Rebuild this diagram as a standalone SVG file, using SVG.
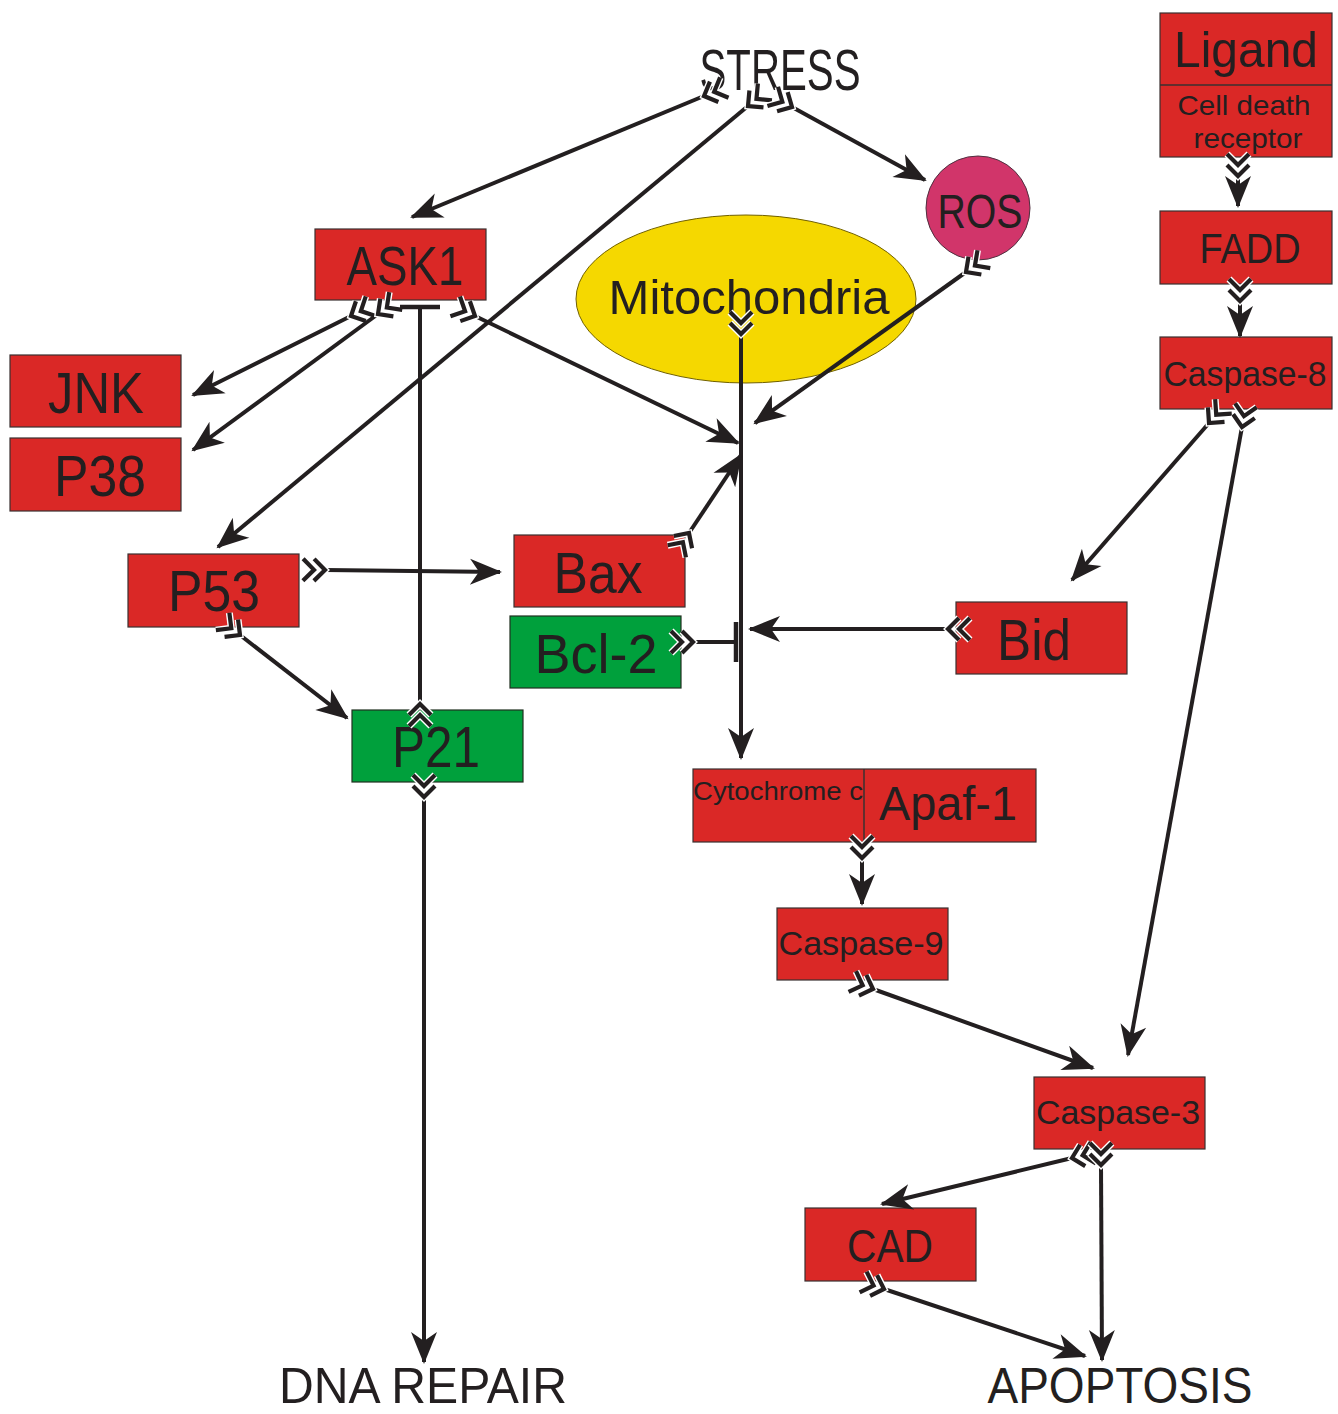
<svg xmlns="http://www.w3.org/2000/svg" width="1338" height="1414" viewBox="0 0 1338 1414">
<style>
.box{fill:#da2826;stroke:#3a3030;stroke-width:1.2}
.green{fill:#00a03c;stroke:#203020;stroke-width:1.2}
text{font-family:"Liberation Sans",Arial,sans-serif;fill:#231f20;text-anchor:middle}
.c{stroke:#231f20;stroke-width:4;fill:none}
.a{marker-end:url(#ah);marker-start:url(#ch)}
</style>
<defs>
<marker id="ah" markerUnits="userSpaceOnUse" markerWidth="40" markerHeight="40" refX="0" refY="0" orient="auto" overflow="visible">
<path d="M2,0 L-30,-13 L-21,0 L-30,13 Z" fill="#231f20"/>
</marker>
<marker id="ch" markerUnits="userSpaceOnUse" markerWidth="40" markerHeight="40" refX="0" refY="0" orient="auto" overflow="visible">
<path d="M-22,-11 L-11,0 L-22,11 M-11,-11 L0,0 L-11,11" fill="none" stroke="#fff" stroke-width="7"/>
<path d="M-22,-11 L-11,0 L-22,11 M-11,-11 L0,0 L-11,11" fill="none" stroke="#231f20" stroke-width="4.2"/>
</marker>
<marker id="tb" markerUnits="userSpaceOnUse" markerWidth="40" markerHeight="40" refX="0" refY="0" orient="auto" overflow="visible">
<path d="M0,-20 L0,20" stroke="#231f20" stroke-width="4.5"/>
</marker>
</defs>

<g id="nodes">
<g id="stress"><text x="780" y="90" font-size="58" textLength="161" lengthAdjust="spacingAndGlyphs">STRESS</text></g>
<g id="ligand"><rect class="box" x="1160" y="13" width="172" height="144"/><line x1="1160" y1="85" x2="1332" y2="85" stroke="#3a3030" stroke-width="1.5"/>
<text x="1246" y="67" font-size="50" textLength="144" lengthAdjust="spacingAndGlyphs">Ligand</text>
<text x="1244" y="115" font-size="28" textLength="133" lengthAdjust="spacingAndGlyphs">Cell death</text>
<text x="1248" y="148" font-size="28" textLength="109" lengthAdjust="spacingAndGlyphs">receptor</text></g>
<g id="fadd"><rect class="box" x="1160" y="211" width="172" height="73"/><text x="1250" y="263" font-size="43" textLength="101" lengthAdjust="spacingAndGlyphs">FADD</text></g>
<g id="casp8"><rect class="box" x="1160" y="337" width="172" height="72"/><text x="1245" y="386" font-size="35" textLength="163" lengthAdjust="spacingAndGlyphs">Caspase-8</text></g>
<g id="ros"><circle cx="978" cy="208" r="52" fill="#d1356a" stroke="#503040" stroke-width="1"/><text x="980" y="228" font-size="49" textLength="85" lengthAdjust="spacingAndGlyphs">ROS</text></g>
<g id="mito"><ellipse cx="746" cy="299" rx="170" ry="84" fill="#f5d800" stroke="#706000" stroke-width="1"/><text x="749" y="314" font-size="49" textLength="281" lengthAdjust="spacingAndGlyphs">Mitochondria</text></g>
<g id="ask1"><rect class="box" x="315" y="229" width="171" height="71"/><text x="405" y="285" font-size="55" textLength="117" lengthAdjust="spacingAndGlyphs">ASK1</text></g>
<g id="jnk"><rect class="box" x="10" y="355" width="171" height="72"/><text x="96" y="413" font-size="58" textLength="96" lengthAdjust="spacingAndGlyphs">JNK</text></g>
<g id="p38"><rect class="box" x="10" y="438" width="171" height="73"/><text x="100" y="496" font-size="58" textLength="92" lengthAdjust="spacingAndGlyphs">P38</text></g>
<g id="p53"><rect class="box" x="128" y="554" width="171" height="73"/><text x="214" y="611" font-size="58" textLength="92" lengthAdjust="spacingAndGlyphs">P53</text></g>
<g id="bax"><rect class="box" x="514" y="535" width="171" height="72"/><text x="598" y="593" font-size="58" textLength="89" lengthAdjust="spacingAndGlyphs">Bax</text></g>
<g id="bcl2"><rect class="green" x="510" y="616" width="171" height="72"/><text x="596" y="673" font-size="56" textLength="123" lengthAdjust="spacingAndGlyphs">Bcl-2</text></g>
<g id="bid"><rect class="box" x="956" y="602" width="171" height="72"/><text x="1034" y="660" font-size="57" textLength="74" lengthAdjust="spacingAndGlyphs">Bid</text></g>
<g id="p21"><rect class="green" x="352" y="710" width="171" height="72"/><text x="436" y="767" font-size="58" textLength="88" lengthAdjust="spacingAndGlyphs">P21</text></g>
<g id="cytapaf"><rect class="box" x="693" y="769" width="343" height="73"/><line x1="864" y1="769" x2="864" y2="842" stroke="#3a3030" stroke-width="1.5"/>
<text x="778" y="800" font-size="25" textLength="170" lengthAdjust="spacingAndGlyphs">Cytochrome c</text>
<text x="948" y="820" font-size="48" textLength="138" lengthAdjust="spacingAndGlyphs">Apaf-1</text></g>
<g id="casp9"><rect class="box" x="777" y="908" width="171" height="72"/><text x="861" y="955" font-size="34" textLength="165" lengthAdjust="spacingAndGlyphs">Caspase-9</text></g>
<g id="casp3"><rect class="box" x="1034" y="1077" width="171" height="72"/><text x="1118" y="1124" font-size="34" textLength="164" lengthAdjust="spacingAndGlyphs">Caspase-3</text></g>
<g id="cad"><rect class="box" x="805" y="1208" width="171" height="73"/><text x="890" y="1262" font-size="47" textLength="86" lengthAdjust="spacingAndGlyphs">CAD</text></g>
<g id="dnarepair"><text x="423" y="1403" font-size="50" textLength="288" lengthAdjust="spacingAndGlyphs">DNA REPAIR</text></g>
<g id="apoptosis"><text x="1120" y="1403" font-size="50" textLength="265" lengthAdjust="spacingAndGlyphs">APOPTOSIS</text></g>
</g>

<g id="connectors">
<line class="c a" x1="704" y1="96" x2="412" y2="217"/>
<line class="c a" x1="748" y1="106" x2="218" y2="547"/>
<line class="c a" x1="792" y1="107" x2="925" y2="180"/>
<line class="c a" x1="351" y1="316" x2="193" y2="395"/>
<line class="c a" x1="378" y1="314" x2="193" y2="450"/>
<line class="c" x1="420" y1="704" x2="420" y2="307" marker-start="url(#ch)" marker-end="url(#tb)"/>
<line class="c a" x1="475" y1="316" x2="738" y2="443"/>
<line class="c a" x1="966" y1="272" x2="755" y2="423"/>
<line class="c a" x1="741" y1="334" x2="741" y2="758"/>
<line class="c a" x1="689" y1="533" x2="741" y2="455"/>
<line class="c" x1="693" y1="642" x2="736" y2="642" marker-start="url(#ch)" marker-end="url(#tb)"/>
<line class="c a" x1="948" y1="629" x2="750" y2="629"/>
<line class="c a" x1="325" y1="570" x2="500" y2="572"/>
<line class="c a" x1="240" y1="635" x2="347" y2="718"/>
<line class="c a" x1="424" y1="797" x2="424" y2="1362"/>
<line class="c a" x1="1209" y1="423" x2="1072" y2="580"/>
<line class="c a" x1="1242" y1="427" x2="1128" y2="1055"/>
<line class="c a" x1="1238" y1="176" x2="1238" y2="206"/>
<line class="c a" x1="1240" y1="301" x2="1240" y2="336"/>
<line class="c a" x1="862" y1="858" x2="862" y2="904"/>
<line class="c a" x1="873" y1="989" x2="1093" y2="1068"/>
<line class="c a" x1="1072" y1="1158" x2="882" y2="1204"/>
<line class="c a" x1="1101" y1="1165" x2="1102" y2="1360"/>
<line class="c a" x1="884" y1="1289" x2="1085" y2="1356"/>
</g>
</svg>
